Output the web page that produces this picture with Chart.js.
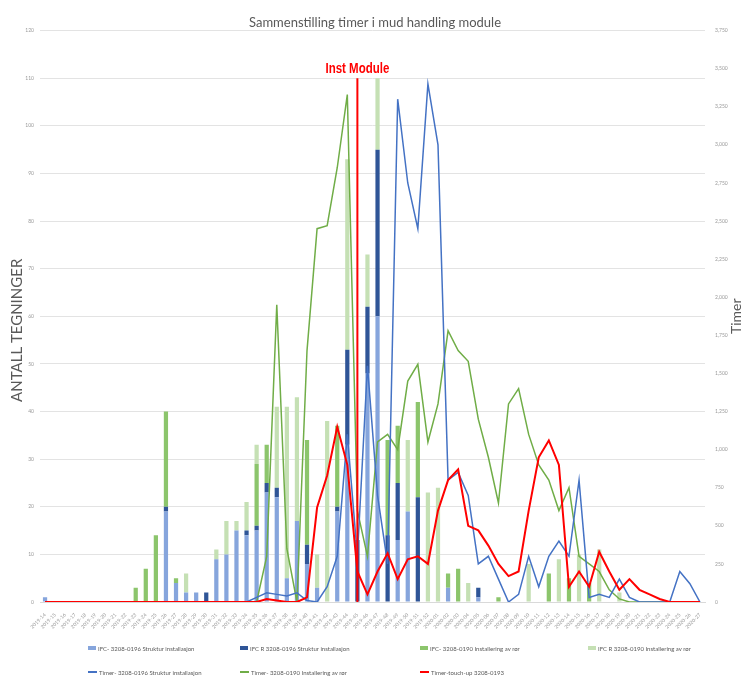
<!DOCTYPE html>
<html><head><meta charset="utf-8">
<script src="https://cdn.jsdelivr.net/npm/chart.js@4/dist/chart.umd.min.js"></script>
<style>
html,body{margin:0;padding:0;background:#fff;}
#wrap{position:relative;width:750px;height:687px;}
#legend{position:absolute;left:0;top:0;width:750px;height:687px;pointer-events:none;font-family:Lato,"Liberation Sans",sans-serif;font-size:6px;color:#595959;}
.li{position:absolute;display:flex;align-items:center;white-space:nowrap;height:8px;}
.mk{display:inline-block;margin-right:2px;}
</style></head><body>
<div id="wrap"><canvas id="c" width="750" height="687"></canvas><div id="legend"></div></div>
<script>
const labels = ['2019-14','2019-15','2019-16','2019-17','2019-18','2019-19','2019-20','2019-21','2019-22','2019-23',
'2019-24','2019-25','2019-26','2019-27','2019-28','2019-29','2019-30','2019-31','2019-32','2019-33',
'2019-34','2019-35','2019-36','2019-37','2019-38','2019-39','2019-40','2019-41','2019-42','2019-43',
'2019-44','2019-45','2019-46','2019-47','2019-48','2019-49','2019-50','2019-51','2019-52','2020-01',
'2020-02','2020-03','2020-04','2020-05','2020-06','2020-07','2020-08','2020-09','2020-10','2020-11',
'2020-12','2020-13','2020-14','2020-15','2020-16','2020-17','2020-18','2020-19','2020-20','2020-21',
'2020-22','2020-23','2020-24','2020-25','2020-26','2020-27'];

// Antall tegninger (left axis)
const ifcStruktur = [1,0,0,0,0,0,0,0,0,0, 0,0,19,4,2,2,0,9,10,15, 14,15,23,22,5,17,8,3,0,19, 33,0,48,60,0,13,19,0,0,0, 3,0,0,1,0,0,0,0,0,0, 0,0,0,0,0,0,0,0,0,0, 0,0,0,0,0,0];
const ifcRStruktur = [0,0,0,0,0,0,0,0,0,0, 0,0,1,0,0,0,2,0,0,0, 1,1,2,2,0,0,4,0,0,1, 20,13,14,35,14,12,0,22,0,0, 0,0,0,2,0,0,0,0,0,0, 0,0,0,0,0,0,0,0,0,0, 0,0,0,0,0,0];
const ifcRor = [0,0,0,0,0,0,0,0,0,3, 7,14,20,1,0,0,0,0,0,0, 0,13,8,0,0,0,22,0,0,17, 0,0,0,0,20,12,0,20,0,0, 3,7,0,0,0,1,0,0,0,0, 6,0,5,0,4,0,0,0,0,0, 0,0,0,0,0,0];
const ifcRRor = [0,0,0,0,0,0,0,0,0,0, 0,0,0,0,4,0,0,2,7,2, 6,4,0,17,36,26,0,7,38,0, 40,0,11,15,0,0,15,0,23,24, 0,0,4,0,0,0,0,0,8,0, 0,9,0,10,0,11,0,2,0,0, 0,0,0,0,0,0];

// Timer (right axis)
const timerStruktur = [0,0,0,0,0,0,0,0,0,0, 0,0,0,0,0,0,0,0,0,0, 0,30,60,50,40,60,10,0,100,300, 1100,300,1550,700,250,3300,2750,2450,3400,3000, 800,850,700,250,300,150,0,50,300,100, 300,400,300,800,30,50,30,150,30,0, 0,0,0,200,120,0];
const timerRor = [0,0,0,0,0,0,0,0,0,0, 0,0,0,0,0,0,0,0,0,0, 0,0,300,1950,350,0,1650,2450,2470,2850, 3330,600,300,1050,1100,1000,1450,1560,1050,1300, 1780,1650,1580,1200,950,650,1300,1400,1100,900, 800,600,750,300,250,200,80,20,0,0, 0,0,0,0,0,0];
const timerTouchUp = [0,0,0,0,0,0,0,0,0,0, 0,0,0,0,0,0,0,0,0,0, 0,0,20,10,0,0,30,620,830,1150, 900,200,50,200,320,150,280,300,250,600, 800,870,500,470,370,250,170,200,600,950, 1060,900,100,200,100,330,200,80,150,80, 50,20,0,0,0,0];

const instLabel = '2019-45';
const instTop = 110;

const seriesNames = ['IFC- 3208-0196 Struktur installasjon','IFC R 3208-0196 Struktur installasjon','IFC- 3208-0190 Installering av rør','IFC R 3208-0190 Installering av rør','Timer- 3208-0196 Struktur installasjon','Timer- 3208-0190 Installering av rør','Timer-touch-up 3208-0193'];
const colors = ['#86a5dc','#2f5597','#8cc56c','#c5e0b4','#4472c4','#70ad47','#ff0000'];

const instPlugin = {
  id:'inst',
  afterDatasetsDraw(chart){
    const {ctx, scales:{x,y}} = chart;
    const px = x.getPixelForValue(labels.indexOf(instLabel));
    const top = y.getPixelForValue(instTop);
    ctx.save();
    ctx.strokeStyle = '#ff0000'; ctx.lineWidth = 2;
    ctx.beginPath(); ctx.moveTo(px, top); ctx.lineTo(px, y.getPixelForValue(0)); ctx.stroke();
    ctx.fillStyle = '#ff0000';
    ctx.font = 'bold 14px "Liberation Sans",sans-serif';
    ctx.textAlign = 'center'; ctx.textBaseline = 'bottom';
    ctx.translate(px, top - 2); ctx.scale(0.82, 1);
    ctx.fillText('Inst Module', 0, 0);
    ctx.restore();
  }
};

const axisTitles = {
  id:'axisTitles',
  afterDraw(chart){
    const {ctx, chartArea:a} = chart;
    ctx.save();
    ctx.fillStyle = '#595959';
    ctx.textAlign = 'center'; ctx.textBaseline = 'middle';
    ctx.font = '15px Lato';
    ctx.translate(17, (a.top + a.bottom)/2 + 14); ctx.rotate(-Math.PI/2);
    ctx.fillText('ANTALL TEGNINGER', 0, 0);
    ctx.restore();
    ctx.save();
    ctx.fillStyle = '#595959';
    ctx.textAlign = 'center'; ctx.textBaseline = 'middle';
    ctx.font = '14px Lato';
    ctx.translate(736, (a.top + a.bottom)/2); ctx.rotate(-Math.PI/2);
    ctx.fillText('Timer', 0, 0);
    ctx.restore();
  }
};

const tickFont = {family:'Lato', size:5};
new Chart(document.getElementById('c'), {
  data: {
    labels: labels,
    datasets: [
      {type:'bar', label:seriesNames[0], data:ifcStruktur, backgroundColor:colors[0], yAxisID:'y', stack:'s', order:2, barPercentage:0.42, categoryPercentage:1},
      {type:'bar', label:seriesNames[1], data:ifcRStruktur, backgroundColor:colors[1], yAxisID:'y', stack:'s', order:2, barPercentage:0.42, categoryPercentage:1},
      {type:'bar', label:seriesNames[2], data:ifcRor, backgroundColor:colors[2], yAxisID:'y', stack:'s', order:2, barPercentage:0.42, categoryPercentage:1},
      {type:'bar', label:seriesNames[3], data:ifcRRor, backgroundColor:colors[3], yAxisID:'y', stack:'s', order:2, barPercentage:0.42, categoryPercentage:1},
      {type:'line', label:seriesNames[4], data:timerStruktur, borderColor:colors[4], backgroundColor:colors[4], yAxisID:'y1', order:1, borderWidth:1.5, pointRadius:0, tension:0},
      {type:'line', label:seriesNames[5], data:timerRor, borderColor:colors[5], backgroundColor:colors[5], yAxisID:'y1', order:1, borderWidth:1.5, pointRadius:0, tension:0},
      {type:'line', label:seriesNames[6], data:timerTouchUp, borderColor:colors[6], backgroundColor:colors[6], yAxisID:'y1', order:0, borderWidth:2, pointRadius:0, tension:0}
    ]
  },
  options: {
    responsive:false, animation:false, devicePixelRatio:1,
    layout:{padding:{left:0,right:0,top:0,bottom:57}},
    plugins:{
      legend:{display:false}, tooltip:{enabled:false},
      title:{display:true, text:'Sammenstilling timer i mud handling module', color:'#595959', font:{family:'Lato', size:13, weight:'normal'}, padding:{top:15,bottom:0}}
    },
    scales:{
      x:{stacked:true, grid:{display:false}, border:{color:'#d9d9d9'},
         ticks:{font:tickFont, color:'#999', minRotation:45, maxRotation:45, autoSkip:false, padding:2},
         afterFit(s){ s.height = 28; }},
      y:{stacked:true, position:'left', min:0, max:120, ticks:{stepSize:10, font:tickFont, color:'#999', padding:6},
         grid:{color:'#e3e3e3', drawTicks:false}, border:{display:false},
         afterFit(s){ s.width = 40; }},
      y1:{position:'right', min:0, max:3750, ticks:{stepSize:250, font:tickFont, color:'#999', padding:10},
         grid:{display:false, drawTicks:false}, border:{display:false},
         afterFit(s){ s.width = 45; }}
    }
  },
  plugins:[instPlugin, axisTitles]
});

// legend
const legendPos = [[88,644,'bar'],[240,644,'bar'],[420,644,'bar'],[588,644,'bar'],[88,668,'line'],[240,668,'line'],[420,668,'line']];
const lg = document.getElementById('legend');
seriesNames.forEach((n,i)=>{
  const d = document.createElement('div'); d.className='li';
  d.style.left = legendPos[i][0]+'px'; d.style.top = legendPos[i][1]+'px';
  const m = document.createElement('span'); m.className='mk';
  if (legendPos[i][2]==='bar'){ m.style.width='8px'; m.style.height='4px'; m.style.background=colors[i]; }
  else { m.style.width='9px'; m.style.height='2px'; m.style.background=colors[i]; }
  d.appendChild(m);
  const t = document.createElement('span'); t.textContent = n; d.appendChild(t);
  lg.appendChild(d);
});
</script>
</body></html>
